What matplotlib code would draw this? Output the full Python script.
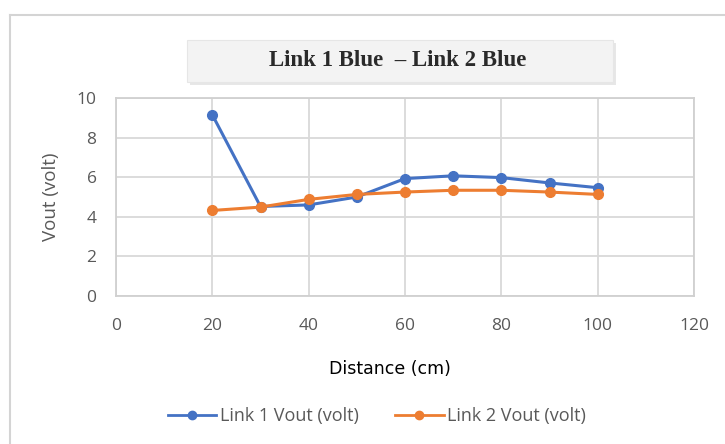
import numpy as np
import matplotlib
matplotlib.use("Agg")
import matplotlib.pyplot as plt
from matplotlib.patches import Rectangle
from matplotlib.lines import Line2D

# distance in cm, output voltage of both links
distance = [20, 30, 40, 50, 60, 70, 80, 90, 100]
link1_vout = [9.15, 4.52, 4.6, 5.0, 5.93, 6.07, 5.98, 5.71, 5.47]
link2_vout = [4.32, 4.49, 4.88, 5.13, 5.25, 5.34, 5.34, 5.25, 5.13]
x_ticks = [0, 20, 40, 60, 80, 100, 120]
y_ticks = [0, 2, 4, 6, 8, 10]

blue = "#4472C4"
orange = "#ED7D31"
grey_txt = "#595959"
W, H = 725, 444

fig = plt.figure(figsize=(W / 100, H / 100), dpi=100)
fig.patch.set_facecolor("white")

# outer chart frame (top and left edges)
fig.add_artist(Line2D([10 / W, 1], [1 - 15 / H, 1 - 15 / H], color="#d4d4d4", lw=1.5))
fig.add_artist(Line2D([10 / W, 10 / W], [0, 1 - 15 / H], color="#d4d4d4", lw=1.5))

# title box with a soft shadow
bx0, by0, bx1, by1 = 187, 40, 613, 82
fig.add_artist(Rectangle(((bx0 + 3) / W, 1 - (by1 + 3) / H), (bx1 - bx0) / W, (by1 - by0) / H,
                         transform=fig.transFigure, facecolor="#d8d8d8", edgecolor="none", alpha=0.6))
fig.add_artist(Rectangle((bx0 / W, 1 - by1 / H), (bx1 - bx0) / W, (by1 - by0) / H,
                         transform=fig.transFigure, facecolor="#f3f3f3", edgecolor="#e6e6e6", lw=0.8))
fig.text(398 / W, 1 - 61 / H, "Link 1 Blue  \u2013 Link 2 Blue",
         family="Liberation Serif", fontsize=16.5, weight="bold", color="#2a2a2a",
         ha="center", va="center")

ax = fig.add_axes([116 / W, 1 - 296 / H, (694 - 116) / W, (296 - 98) / H])
ax.plot(distance, link1_vout, color=blue, lw=2.2, marker="o", ms=7, zorder=3)
ax.plot(distance, link2_vout, color=orange, lw=2.2, marker="o", ms=7, zorder=4)

ax.set_xlim(0, 120)
ax.set_ylim(0, 10)
ax.set_xticks(x_ticks)
ax.set_yticks(y_ticks)
ax.grid(True, color="#d9d9d9", lw=1.3)
ax.set_axisbelow(True)
for s in ax.spines.values():
    s.set_color("#d0d0d0")
    s.set_linewidth(1.3)
ax.tick_params(length=0, colors=grey_txt, labelsize=12.5)
ax.tick_params(axis="x", pad=16)
ax.tick_params(axis="y", pad=14)
for lab in ax.get_xticklabels() + ax.get_yticklabels():
    lab.set_family("Open Sans")

ax.set_ylabel("Vout (volt)", family="Open Sans", fontsize=13.5, color=grey_txt, labelpad=12)
fig.text(390 / W, 1 - 369 / H, "Distance (cm)", family="DejaVu Sans", fontsize=12.5,
         color="black", ha="center", va="center")

handles = [Line2D([], [], color=blue, lw=2, marker="o", ms=6),
           Line2D([], [], color=orange, lw=2, marker="o", ms=6)]
leg = fig.legend(handles, ["Link 1 Vout (volt)", "Link 2 Vout (volt)"], loc="center",
                 bbox_to_anchor=(377 / W, 1 - 416 / H), ncol=2, frameon=False,
                 prop={"family": "Open Sans", "size": 13}, handlelength=2.7, columnspacing=2.0,
                 handletextpad=0.2)
for t in leg.get_texts():
    t.set_color(grey_txt)

fig.savefig("out.png", dpi=100)
